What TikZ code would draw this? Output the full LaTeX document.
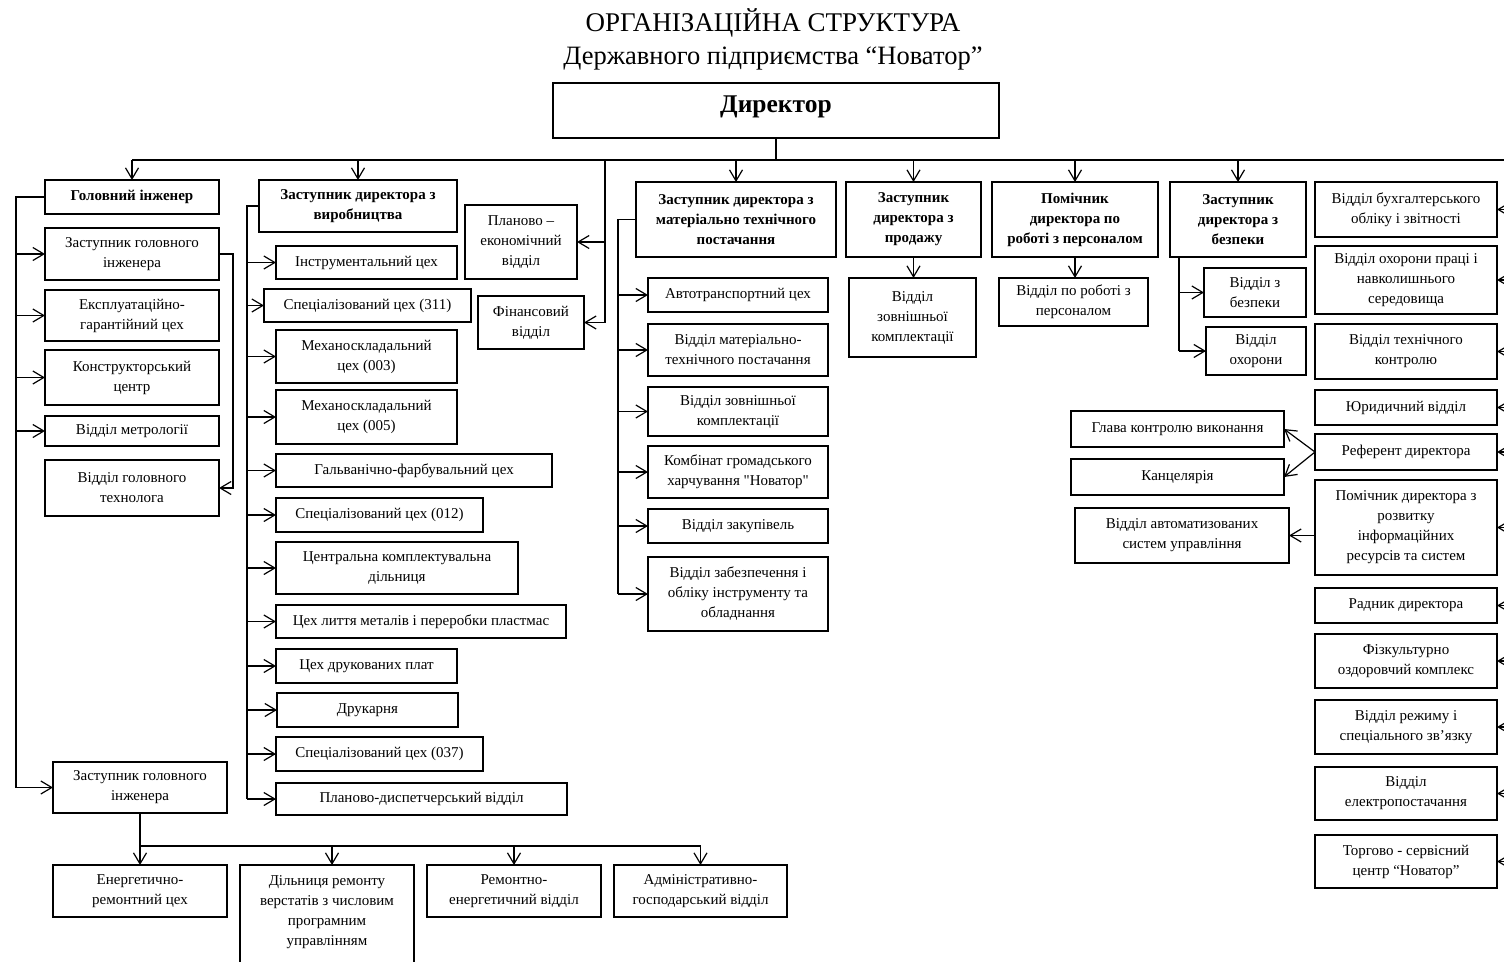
\documentclass[tikz,border=0pt]{standalone}
\usepackage{fontspec}
\setmainfont{Liberation Serif}[Ligatures=TeXOff]
\usetikzlibrary{arrows.meta}
\newcommand\bx[6]{\node[box,minimum width={#4-#2},minimum height={#5-#3}] (#1) at ({(#2+#4)/2},{(#3+#5)/2}) {#6};}
\tikzset{
  box/.style={draw,line width=1.2pt,inner sep=0pt,outer sep=0pt,align=center,font=\fontsize{15}{20}\selectfont},
  ln/.style={line width=1.2pt},
  arr/.style={line width=1.2pt,-{Straight Barb[length=11pt,width=13pt]}},
}
\begin{document}
\begin{tikzpicture}[x=1pt,y=-1pt]
\clip (0,0) rectangle (1504,961);
\fill[white] (0,0) rectangle (1504,961);
\node (t1) at (773,23) {\fontsize{27}{30}\selectfont ОРГАНІЗАЦІЙНА СТРУКТУРА};
\node (t2) at (773,58) {\fontsize{26.5}{30}\selectfont Державного підприємства “Новатор”};
\node[draw,line width=1.2pt,inner sep=0pt,outer sep=0pt,minimum width=446,minimum height=55] (dir) at (776,110.5) {};
\node[font=\fontsize{25.5}{28}\selectfont\bfseries] (dirt) at (776,107) {Директор};
% column 1
\bx{gi}{45}{180}{219}{214}{\textbf{Головний інженер}}
\bx{zgi}{45}{228}{219}{280}{Заступник головного\\інженера}
\bx{egc}{45}{290}{219}{341}{Експлуатаційно-\\гарантійний цех}
\bx{kc}{45}{350}{219}{405}{Конструкторський\\центр}
\bx{vm}{45}{416}{219}{446}{Відділ метрології}
\bx{vgt}{45}{460}{219}{516}{Відділ головного\\технолога}
\bx{zgi2}{53}{762}{227}{813}{Заступник головного\\інженера}
\bx{erc}{53}{865}{227}{917}{Енергетично-\\ремонтний цех}
\bx{drv}{240}{865}{414}{966}{}
\node[align=center,font=\fontsize{15}{20}\selectfont] (drvt) at (327,912) {Дільниця ремонту\\верстатів з числовим\\програмним\\управлінням};
\bx{re}{427}{865}{601}{917}{Ремонтно-\\енергетичний відділ}
\bx{ag}{614}{865}{787}{917}{Адміністративно-\\господарський відділ}
% column 2
\bx{zv}{259}{180}{457}{232}{\textbf{Заступник директора з}\\\textbf{виробництва}}
\bx{ic}{276}{246}{457}{279}{Інструментальний цех}
\bx{s311}{264}{289}{471}{322}{Спеціалізований цех (311)}
\bx{m003}{276}{330}{457}{383}{Механоскладальний\\цех (003)}
\bx{m005}{276}{390}{457}{444}{Механоскладальний\\цех (005)}
\bx{gf}{276}{454}{552}{487}{Гальванічно-фарбувальний цех}
\bx{s012}{276}{498}{483}{532}{Спеціалізований цех (012)}
\bx{ckd}{276}{542}{518}{594}{Центральна комплектувальна\\дільниця}
\bx{cl}{276}{605}{566}{638}{Цех лиття металів і переробки пластмас}
\bx{cdp}{276}{649}{457}{683}{Цех друкованих плат}
\bx{dr}{277}{693}{458}{727}{Друкарня}
\bx{s037}{276}{737}{483}{771}{Спеціалізований цех (037)}
\bx{pd}{276}{783}{567}{815}{Планово-диспетчерський відділ}
\bx{pe}{465}{205}{577}{279}{Планово –\\економічний\\відділ}
\bx{fin}{478}{296}{584}{349}{Фінансовий\\відділ}
% column 3
\bx{mtp}{636}{182}{836}{257}{\textbf{Заступник директора з}\\\textbf{матеріально технічного}\\\textbf{постачання}}
\bx{at}{648}{278}{828}{312}{Автотранспортний цех}
\bx{vmtp}{648}{324}{828}{376}{Відділ матеріально-\\технічного постачання}
\bx{vzk1}{648}{387}{828}{436}{Відділ зовнішньої\\комплектації}
\bx{kgh}{648}{446}{828}{498}{Комбінат громадського\\харчування "Новатор"}
\bx{vz}{648}{509}{828}{543}{Відділ закупівель}
\bx{vzo}{648}{557}{828}{631}{Відділ забезпечення і\\обліку інструменту та\\обладнання}
% column 4-6
\bx{prod}{846}{182}{981}{257}{\textbf{Заступник}\\\textbf{директора з}\\\textbf{продажу}}
\bx{vzk2}{849}{278}{976}{357}{Відділ\\зовнішньої\\комплектації}
\bx{pers}{992}{182}{1158}{257}{\textbf{Помічник}\\\textbf{директора по}\\\textbf{роботі з персоналом}}
\bx{vpp}{999}{278}{1148}{326}{Відділ по роботі з\\персоналом}
\bx{bez}{1170}{182}{1306}{257}{\textbf{Заступник}\\\textbf{директора з}\\\textbf{безпеки}}
\bx{vb}{1204}{268}{1306}{317}{Відділ з\\безпеки}
\bx{vo}{1206}{327}{1306}{375}{Відділ\\охорони}
% right column
\bx{r1}{1315}{182}{1497}{237}{Відділ бухгалтерського\\обліку і звітності}
\bx{r2}{1315}{246}{1497}{314}{Відділ охорони праці і\\навколишнього\\середовища}
\bx{r3}{1315}{324}{1497}{379}{Відділ технічного\\контролю}
\bx{r4}{1315}{390}{1497}{425}{Юридичний відділ}
\bx{ref}{1315}{434}{1497}{470}{Референт директора}
\bx{pom}{1315}{480}{1497}{575}{Помічник директора з\\розвитку\\інформаційних\\ресурсів та систем}
\bx{r7}{1315}{588}{1497}{623}{Радник директора}
\bx{r8}{1315}{634}{1497}{688}{Фізкультурно\\оздоровчий комплекс}
\bx{r9}{1315}{700}{1497}{754}{Відділ режиму і\\спеціального зв’язку}
\bx{r10}{1315}{767}{1497}{820}{Відділ\\електропостачання}
\bx{r11}{1315}{835}{1497}{888}{Торгово - сервісний\\центр “Новатор”}
% middle right
\bx{gkv}{1071}{411}{1284}{447}{Глава контролю виконання}
\bx{kanc}{1071}{459}{1284}{495}{Канцелярія}
\bx{vas}{1075}{508}{1289}{563}{Відділ автоматизованих\\систем управління}
% coordinates
\coordinate (bus) at (0,160);
\coordinate (busR) at (1520,160);
\coordinate (L1) at (16,0);
\coordinate (L2) at (247,0);
\coordinate (L3) at (618,0);
\coordinate (L6) at (1179,0);
\coordinate (V) at (605,160);
\coordinate (R) at (1520,0);
\coordinate (zgiR) at (233,0);
\coordinate (bb) at (0,846);
% director bus
\draw[ln] (dir.south) -- (dir.south |- bus);
\draw[ln] (gi.north |- bus) -- (busR);
\foreach \n in {gi,zv,mtp,prod,pers,bez}{\draw[arr] (\n.north |- bus) -- (\n.north);}
\draw[ln] (V) -- (V |- fin.east);
\draw[arr] (V |- pe.east) -- (pe.east);
\draw[arr] (V |- fin.east) -- (fin.east);
% column 1
\draw[ln] (gi.west) -- (gi.west -| L1) -- (L1 |- zgi2.west);
\foreach \n in {zgi,egc,kc,vm,zgi2}{\draw[arr] (L1 |- \n.west) -- (\n.west);}
\draw[arr] (zgi.east) -- (zgi.east -| zgiR) -- (zgiR |- vgt.east) -- (vgt.east);
\draw[ln] (zgi2.south) -- (zgi2.south |- bb) -- (ag.north |- bb);
\foreach \n in {erc,re,ag}{\draw[arr] (\n.north |- bb) -- (\n.north);}
\draw[arr] ([xshift=5pt]drv.north |- bb) -- ([xshift=5pt]drv.north);
% column 2
\draw[ln] (zv.west) -- (zv.west -| L2) -- (L2 |- pd.west);
\foreach \n in {ic,s311,m003,m005,gf,s012,ckd,cl,cdp,dr,s037,pd}{\draw[arr] (L2 |- \n.west) -- (\n.west);}
% column 3
\draw[ln] (mtp.west) -- (mtp.west -| L3) -- (L3 |- vzo.west);
\foreach \n in {at,vmtp,vzk1,kgh,vz,vzo}{\draw[arr] (L3 |- \n.west) -- (\n.west);}
% columns 4-6
\draw[arr] (prod.south) -- (prod.south |- vzk2.north);
\draw[arr] (pers.south) -- (pers.south |- vpp.north);
\draw[ln] (bez.south -| L6) -- (L6 |- vo.west);
\foreach \n in {vb,vo}{\draw[arr] (L6 |- \n.west) -- (\n.west);}
% right column
\foreach \n in {r1,r2,r3,r4,ref,pom,r7,r8,r9,r10,r11}{\draw[arr] (R |- \n.east) -- (\n.east);}
\draw[arr] (ref.west) -- (gkv.east);
\draw[arr] (ref.west) -- (kanc.east);
\draw[arr] (vas.east -| pom.west) -- (vas.east);
\end{tikzpicture}
\end{document}
